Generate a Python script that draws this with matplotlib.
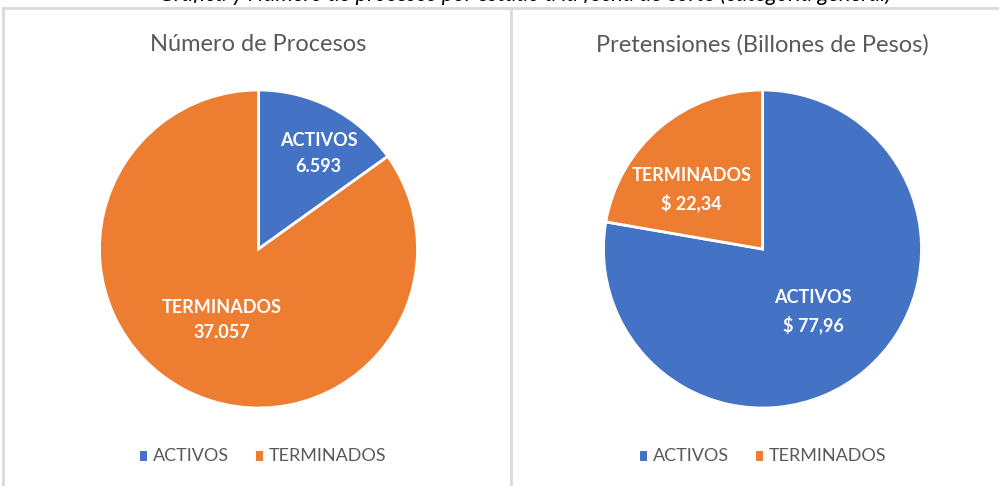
import matplotlib.pyplot as plt
import numpy as np

# ---------------- data ----------------
categories = ['ACTIVOS', 'TERMINADOS']
procesos = [6593, 37057]
procesos_txt = ['6.593', '37.057']
pretensiones = [77.96, 22.34]
pretensiones_txt = ['$ 77,96', '$ 22,34']
titles = ['Número de Procesos', 'Pretensiones (Billones de Pesos)']

# ---------------- style ----------------
colors = ['#4472C4', '#ED7D31']
grey_txt = '#595959'
frame_col = '#D9D9D9'
W, H = 999, 486

plt.rcParams['font.family'] = ['Lato', 'DejaVu Sans']

fig = plt.figure(figsize=(W / 100, H / 100), dpi=100)
ax = fig.add_axes([0, 0, 1, 1])
ax.set_xlim(0, W)
ax.set_ylim(0, H)
ax.axis('off')


def py(y):  # pixel row (from top) -> axis y
    return H - y


# frames
ax.plot([3, 3], [py(8), py(486)], color=frame_col, lw=2)
ax.plot([511, 511], [py(8), py(486)], color=frame_col, lw=2)
ax.plot([3, 999], [py(8), py(8)], color=frame_col, lw=2)

# caption cut off by the top edge (only the lower part shows, as in the source)
ax.text(525, py(1), 'Gráfica y Número de procesos por estado a la fecha de corte (categoría general)',
        ha='center', va='baseline', style='italic', fontsize=16, color='black')

panels = [
    dict(vals=procesos, txt=procesos_txt, cx=258.5, cy=249,
         lab_r=[0.71, 0.50], lab_da=[-5, 0]),
    dict(vals=pretensiones, txt=pretensiones_txt, cx=762.5, cy=249,
         lab_r=[0.505, 0.58], lab_da=[-1, 10]),
]
R = 159
legend_x = [140, 640]

for k, p in enumerate(panels):
    wedges, _ = ax.pie(p['vals'], colors=colors, startangle=90, counterclock=False,
                       center=(p['cx'], py(p['cy'])), radius=R,
                       wedgeprops=dict(edgecolor='white', linewidth=2))
    ax.set_xlim(0, W)
    ax.set_ylim(0, H)
    for w, cat, t, r, da in zip(wedges, categories, p['txt'], p['lab_r'], p['lab_da']):
        ang = np.deg2rad((w.theta1 + w.theta2) / 2 + da)
        x = p['cx'] + r * R * np.cos(ang)
        y = py(p['cy']) + r * R * np.sin(ang)
        ax.text(x, y, f'{cat}\n{t}', ha='center', va='center', color='white',
                fontsize=13, fontweight='bold', linespacing=1.6)
    ax.text(p['cx'], py(45), titles[k], ha='center', va='center',
            fontsize=17, color=grey_txt)

    # legend
    lx = legend_x[k]
    for j, cat in enumerate(categories):
        ax.add_patch(plt.Rectangle((lx, py(461)), 7, 10, color=colors[j], lw=0))
        ax.text(lx + 13, py(456), cat, ha='left', va='center',
                fontsize=13, color=grey_txt)
        lx += 116

fig.savefig('out.png', dpi=100)
